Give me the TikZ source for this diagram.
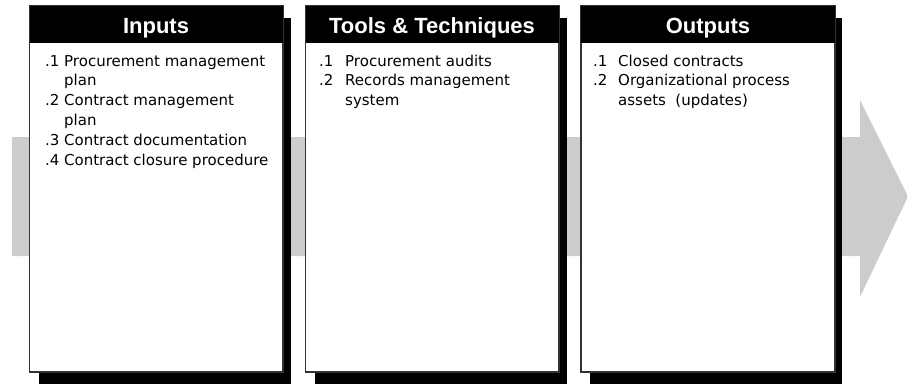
\documentclass[tikz,border=0pt]{standalone}
\usepackage{fontspec}
\setmainfont{DejaVu Sans}
\newfontfamily\hdrfont{Liberation Sans}
\definecolor{arrowgray}{RGB}{204,204,204}
\definecolor{edgegray}{RGB}{50,50,50}
\tikzset{
  shadowbox/.style={fill=black},
  bodybox/.style={fill=white,draw=edgegray,line width=1.2pt},
  headbox/.style={fill=black},
  headtext/.style={text=white,font=\hdrfont\bfseries\fontsize{22}{26}\selectfont,inner sep=0pt,anchor=base},
  itemtext/.style={font=\fontsize{15}{19.9}\selectfont,inner sep=0pt,anchor=base west},
}
\begin{document}
\begin{tikzpicture}[x=1pt,y=-1pt]
\useasboundingbox (0,0) rectangle (907,383);
% big gray arrow
\fill[arrowgray] (12,137) -- (860,137) -- (860,100) -- (908,196.5) -- (860,297) -- (860,256) -- (12,256) -- cycle;
% box 1
\fill[shadowbox] (38.5,18) rectangle (291,386);
\draw[bodybox] (29.5,6) rectangle (283,372);
\fill[headbox] (29.5,6) rectangle (283,43);
\node[headtext] (h1) at (156,33) {Inputs};
\node[itemtext] (i1) at (45,66) {\begin{tabular}[t]{@{}l@{}l@{}}
\makebox[19pt][l]{.1}&Procurement management\\
&plan\\
\makebox[19pt][l]{.2}&Contract management\\
&plan\\
\makebox[19pt][l]{.3}&Contract documentation\\
\makebox[19pt][l]{.4}&Contract closure procedure
\end{tabular}};
% box 2
\fill[shadowbox] (314.5,18) rectangle (567,386);
\draw[bodybox] (305.5,6) rectangle (559,372);
\fill[headbox] (305.5,6) rectangle (559,43);
\node[headtext] (h2) at (432,33) {Tools \& Techniques};
\node[itemtext] (i2) at (319,66) {\begin{tabular}[t]{@{}l@{}l@{}}
\makebox[26pt][l]{.1}&Procurement audits\\
\makebox[26pt][l]{.2}&Records management\\
&system
\end{tabular}};
% box 3
\fill[shadowbox] (590,18) rectangle (842,386);
\draw[bodybox] (581,6) rectangle (835,372);
\fill[headbox] (581,6) rectangle (835,43);
\node[headtext] (h3) at (708,33) {Outputs};
\node[itemtext] (i3) at (593,66) {\begin{tabular}[t]{@{}l@{}l@{}}
\makebox[25pt][l]{.1}&Closed contracts\\
\makebox[25pt][l]{.2}&Organizational process\\
&assets\ \ (updates)
\end{tabular}};
\end{tikzpicture}
\end{document}
